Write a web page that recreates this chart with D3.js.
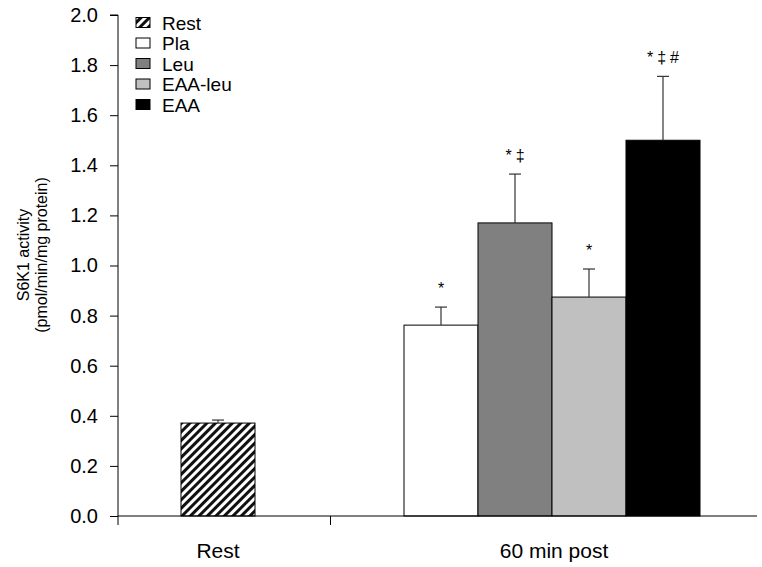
<!DOCTYPE html>
<html>
<head>
<meta charset="utf-8">
<script src="https://cdn.jsdelivr.net/npm/d3@7"></script>
<style>
  html, body { margin: 0; padding: 0; background: #fff; }
  svg { display: block; font-family: "Liberation Sans", Arial, sans-serif; }
</style>
</head>
<body>
<svg id="chart" width="762" height="567"></svg>
<script>
// S6K1 activity at rest and 60 min after exercise, by supplement group
const categories = ["Rest", "60 min post"];
const seriesNames = ["Rest", "Pla", "Leu", "EAA-leu", "EAA"];
const seriesCategory = ["Rest", "60 min post", "60 min post", "60 min post", "60 min post"];
const means = [0.371, 0.762, 1.17, 0.874, 1.50];
const errors = [0.012, 0.072, 0.195, 0.112, 0.255];
const marks = ["", "*", "*‡", "*", "*‡#"];
const fills = ["url(#hatch)", "#ffffff", "#808080", "#c0c0c0", "#000000"];
const yTicks = [0, 0.2, 0.4, 0.6, 0.8, 1.0, 1.2, 1.4, 1.6, 1.8, 2.0];

const svg = d3.select("#chart");
const axisX0 = 118, axisX1 = 757;

// diagonal hatch used by the Rest bar and its legend key
const defs = svg.append("defs");
const pat = defs.append("pattern")
  .attr("id", "hatch")
  .attr("patternUnits", "userSpaceOnUse")
  .attr("width", 6).attr("height", 6)
  .attr("patternTransform", "rotate(45)");
pat.append("rect").attr("width", 6).attr("height", 6).attr("fill", "#fff");
pat.append("rect").attr("x", 0).attr("width", 3).attr("height", 6).attr("fill", "#111");

const y = d3.scaleLinear().domain([0, 2.0]).range([516, 15]);

// category centres; bars within a category sit side by side
const xCat = d3.scaleOrdinal().domain(categories).range([218, 552]);
const barW = 74;
const inner = {};
categories.forEach(c => {
  const members = seriesNames.filter((s, i) => seriesCategory[i] === c);
  const w = members.length * barW;
  inner[c] = d3.scaleBand().domain(members).range([xCat(c) - w / 2, xCat(c) + w / 2]).padding(0);
});
const barX = i => inner[seriesCategory[i]](seriesNames[i]);

const data = seriesNames.map((s, i) => ({ name: s, i, mean: means[i], err: errors[i], mark: marks[i], fill: fills[i] }));

// bars
svg.append("g").selectAll("rect").data(data).join("rect")
  .attr("x", d => barX(d.i))
  .attr("y", d => y(d.mean))
  .attr("width", d => inner[seriesCategory[d.i]].bandwidth())
  .attr("height", d => y(0) - y(d.mean))
  .attr("fill", d => d.fill)
  .attr("stroke", "#000")
  .attr("stroke-width", 1);

// upper error bars
const eb = svg.append("g").attr("stroke", "#333").attr("stroke-width", 1.2);
data.forEach(d => {
  const cx = barX(d.i) + barW / 2;
  eb.append("line").attr("x1", cx).attr("x2", cx).attr("y1", y(d.mean)).attr("y2", y(d.mean + d.err));
  eb.append("line").attr("x1", cx - 6).attr("x2", cx + 6).attr("y1", y(d.mean + d.err)).attr("y2", y(d.mean + d.err));
});

// significance marks
svg.append("g").selectAll("text").data(data.filter(d => d.mark)).join("text")
  .attr("x", d => barX(d.i) + barW / 2 + 2)
  .attr("y", d => y(d.mean + d.err) - 13.5)
  .attr("text-anchor", "middle")
  .attr("font-size", 16)
  .attr("letter-spacing", 4)
  .attr("fill", "#000")
  .text(d => d.mark);

// y axis
const yAxis = d3.axisLeft(y).tickValues(yTicks).tickFormat(d3.format(".1f")).tickSize(8).tickPadding(12);
const gy = svg.append("g").attr("transform", `translate(${axisX0},0)`).call(yAxis);
gy.select(".domain").attr("d", `M-8,${y(2)}H0V${y(0)}`).attr("stroke", "#000");
gy.selectAll(".tick line").attr("stroke", "#000");
gy.selectAll(".tick text").attr("font-size", 20).attr("fill", "#000")
  .attr("font-family", "Liberation Sans, Arial, sans-serif");

// x axis: baseline, boundary ticks and category labels
const gx = svg.append("g");
gx.append("line").attr("x1", axisX0).attr("x2", axisX1).attr("y1", y(0)).attr("y2", y(0))
  .attr("stroke", "#000").attr("stroke-width", 1);
const restRight = barX(0) + barW;
const postLeft = barX(1);
const boundaries = [axisX0, (restRight + postLeft) / 2 + 1];
gx.selectAll("line.tk").data(boundaries).join("line").attr("class", "tk")
  .attr("x1", d => d).attr("x2", d => d).attr("y1", y(0)).attr("y2", y(0) + 9)
  .attr("stroke", "#000");
gx.selectAll("text").data(categories).join("text")
  .attr("x", (d, i) => xCat(d) + (i ? 2 : 0))
  .attr("y", 558)
  .attr("text-anchor", "middle")
  .attr("font-size", 21)
  .attr("fill", "#000")
  .text(d => d);

// y axis title
const yt = svg.append("text")
  .attr("transform", `translate(29,255) rotate(-90)`)
  .attr("text-anchor", "middle")
  .attr("font-size", 16)
  .attr("fill", "#000");
yt.append("tspan").attr("x", 0).attr("dy", 0).text("S6K1 activity");
yt.append("tspan").attr("x", 0).attr("dy", 18).text("(pmol/min/mg protein)");

// legend
const lg = svg.append("g").attr("transform", "translate(136,12)");
const rows = lg.selectAll("g").data(data).join("g")
  .attr("transform", (d, i) => `translate(0,${i * 20.5})`);
rows.append("rect").attr("x", 0).attr("y", 5.5).attr("width", 14).attr("height", 10)
  .attr("fill", d => d.fill).attr("stroke", "#000").attr("stroke-width", 1);
rows.append("text").attr("x", 26).attr("y", 17.5)
  .attr("font-size", 19).attr("fill", "#000").text(d => d.name);
</script>
</body>
</html>
